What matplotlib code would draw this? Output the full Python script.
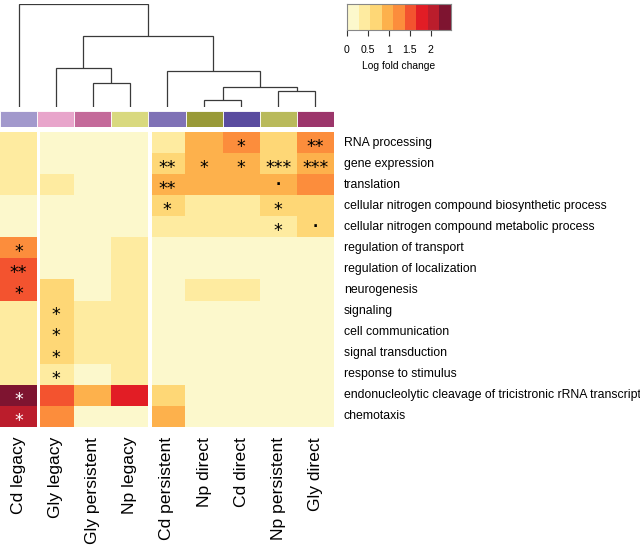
import numpy as np
import matplotlib
matplotlib.use("Agg")
import matplotlib.pyplot as plt
from matplotlib.colors import ListedColormap, BoundaryNorm
from matplotlib.transforms import offset_copy

# ---------------- data ----------------
samples = ["Cd legacy", "Gly legacy", "Gly persistent", "Np legacy", "Cd persistent",
           "Np direct", "Cd direct", "Np persistent", "Gly direct"]
sample_colors = ["#a299cc", "#e8a5cb", "#c46a9a", "#d9d97f", "#7f72b6",
                 "#999a38", "#5a4c9f", "#b9ba5b", "#9c366b"]
terms = ["RNA processing", "gene expression", "translation",
         "cellular nitrogen compound biosynthetic process",
         "cellular nitrogen compound metabolic process",
         "regulation of transport", "regulation of localization", "neurogenesis",
         "signaling", "cell communication", "signal transduction",
         "response to stimulus",
         "endonucleolytic cleavage of tricistronic rRNA transcript", "chemotaxis"]

lfc = np.array([
    [0.40, 0.10, 0.10, 0.10, 0.40, 0.95, 1.25, 0.70, 1.25],
    [0.40, 0.10, 0.10, 0.10, 0.70, 0.95, 0.95, 0.70, 0.95],
    [0.40, 0.40, 0.10, 0.10, 0.95, 0.95, 0.95, 0.95, 1.25],
    [0.10, 0.10, 0.10, 0.10, 0.70, 0.40, 0.40, 0.70, 0.70],
    [0.10, 0.10, 0.10, 0.10, 0.40, 0.40, 0.40, 0.40, 0.70],
    [1.25, 0.10, 0.10, 0.40, 0.10, 0.10, 0.10, 0.10, 0.10],
    [1.50, 0.10, 0.10, 0.40, 0.10, 0.10, 0.10, 0.10, 0.10],
    [1.50, 0.70, 0.10, 0.40, 0.10, 0.40, 0.40, 0.10, 0.10],
    [0.40, 0.70, 0.40, 0.40, 0.10, 0.10, 0.10, 0.10, 0.10],
    [0.40, 0.70, 0.40, 0.40, 0.10, 0.10, 0.10, 0.10, 0.10],
    [0.40, 0.70, 0.40, 0.40, 0.10, 0.10, 0.10, 0.10, 0.10],
    [0.40, 0.40, 0.10, 0.40, 0.10, 0.10, 0.10, 0.10, 0.10],
    [2.35, 1.50, 0.95, 1.80, 0.70, 0.10, 0.10, 0.10, 0.10],
    [2.05, 1.25, 0.10, 0.10, 0.95, 0.10, 0.10, 0.10, 0.10],
])

signif = [
    ["", "", "", "", "", "", "*", "", "**"],
    ["", "", "", "", "**", "*", "*", "***", "***"],
    ["", "", "", "", "**", "", "", ".", ""],
    ["", "", "", "", "*", "", "", "*", ""],
    ["", "", "", "", "", "", "", "*", "."],
    ["*", "", "", "", "", "", "", "", ""],
    ["**", "", "", "", "", "", "", "", ""],
    ["*", "", "", "", "", "", "", "", ""],
    ["", "*", "", "", "", "", "", "", ""],
    ["", "*", "", "", "", "", "", "", ""],
    ["", "*", "", "", "", "", "", "", ""],
    ["", "*", "", "", "", "", "", "", ""],
    ["*", "", "", "", "", "", "", "", ""],
    ["*", "", "", "", "", "", "", "", ""],
]

# dendrogram merges: (child_a, child_b, height); leaves are 0..8, new nodes numbered from 9
merges = [
    (5, 6, 7),
    (7, 8, 16),
    (2, 3, 24),
    (9, 10, 20),
    (4, 12, 36),
    (1, 11, 39),
    (14, 13, 71),
    (0, 15, 103),
]

legend_ticks = [0, 0.5, 1, 1.5, 2]
vmax = 2.48
palette = ["#fcf8cc", "#feeba0", "#fed776", "#fdb14c", "#fc8d3c",
           "#f3532f", "#e21d25", "#bb1d2c", "#7e1430"]

# ---------------- figure ----------------
W, H = 640, 546
fig = plt.figure(figsize=(W / 100, H / 100), dpi=100)


def px_axes(x0, y0, x1, y1):
    return fig.add_axes([x0 / W, 1 - y1 / H, (x1 - x0) / W, (y1 - y0) / H])


cmap = ListedColormap(palette)
bounds = np.linspace(0, vmax, len(palette) + 1)
norm = BoundaryNorm(bounds, cmap.N)

ncol, nrow = len(samples), len(terms)

# heatmap
ax = px_axes(0, 132, 334, 427)
ax.imshow(lfc, cmap=cmap, norm=norm, aspect="auto", interpolation="nearest",
          extent=(0, ncol, nrow, 0))
ax.set_xlim(0, ncol)
ax.set_ylim(nrow, 0)
ax.axis("off")
gap = 3.3 / (334 / ncol)
for g in [1, 4]:
    ax.axvspan(g, g + gap, color="white", lw=0)

star_tr = offset_copy(ax.transData, fig=fig, x=0, y=-9.3, units="dots")
for i in range(nrow):
    for j in range(ncol):
        s = signif[i][j]
        if not s:
            continue
        col = "white" if lfc[i, j] > 2.0 else "black"
        if s == ".":
            ax.text(j + 0.5, i + 0.5, "\u00b7", ha="center", va="center", fontsize=10,
                    family="DejaVu Sans", fontweight="bold", color=col)
        else:
            ax.text(j + 0.5, i + 0.5, s, ha="center", va="baseline", fontsize=12.5,
                    family="DejaVu Sans", color=col, transform=star_tr)

colw = 334 / ncol
rowh = 295 / nrow
for i, t in enumerate(terms):
    ax.text(ncol + 10 / colw, i + 0.5, t, ha="left", va="center", fontsize=8.8,
            family="Liberation Sans", color="black", clip_on=False)
for j, s in enumerate(samples):
    ax.text(j + 0.5, nrow + 10 / rowh, s, ha="center", va="top", rotation=90,
            fontsize=12.6, family="Liberation Sans", color="black", clip_on=False)

# annotation bar
axa = px_axes(0, 111, 334, 127)
for j, c in enumerate(sample_colors):
    axa.add_patch(plt.Rectangle((j, 0), 1, 1, facecolor=c, edgecolor="white", lw=0.6))
axa.set_xlim(0, ncol)
axa.set_ylim(0, 1)
axa.axis("off")

# dendrogram
axd = px_axes(0, 4, 334, 107)
pos = {k: (k + 0.5, 0.0) for k in range(ncol)}
node = ncol
for a, b, h in merges:
    xa, ya = pos[a]
    xb, yb = pos[b]
    axd.plot([xa, xa, xb, xb], [ya, h, h, yb], color="#3a3a3a", lw=0.9,
             solid_capstyle="butt", solid_joinstyle="miter")
    pos[node] = ((xa + xb) / 2, h)
    node += 1
axd.set_xlim(0, ncol)
axd.set_ylim(0, max(m[2] for m in merges))
axd.axis("off")

# legend colour key
axl = px_axes(347, 4, 451, 30)
axl.imshow(np.arange(len(palette))[None, :], cmap=cmap, aspect="auto",
           extent=(0, vmax, 0, 1), interpolation="nearest")
axl.set_xlim(0, vmax)
axl.set_ylim(0, 1)
axl.set_yticks([])
axl.set_xticks(legend_ticks)
axl.set_xticklabels([f"{t:g}" for t in legend_ticks], fontsize=7.6, family="Liberation Sans")
axl.tick_params(axis="x", direction="out", length=4.3, width=0.8, color="#333333", pad=6.5)
for sp in axl.spines.values():
    sp.set_color("#888888")
    sp.set_linewidth(0.8)
axl.set_xlabel("Log fold change", fontsize=7.4, family="Liberation Sans", labelpad=4.5)

fig.savefig("out.png", dpi=100)
